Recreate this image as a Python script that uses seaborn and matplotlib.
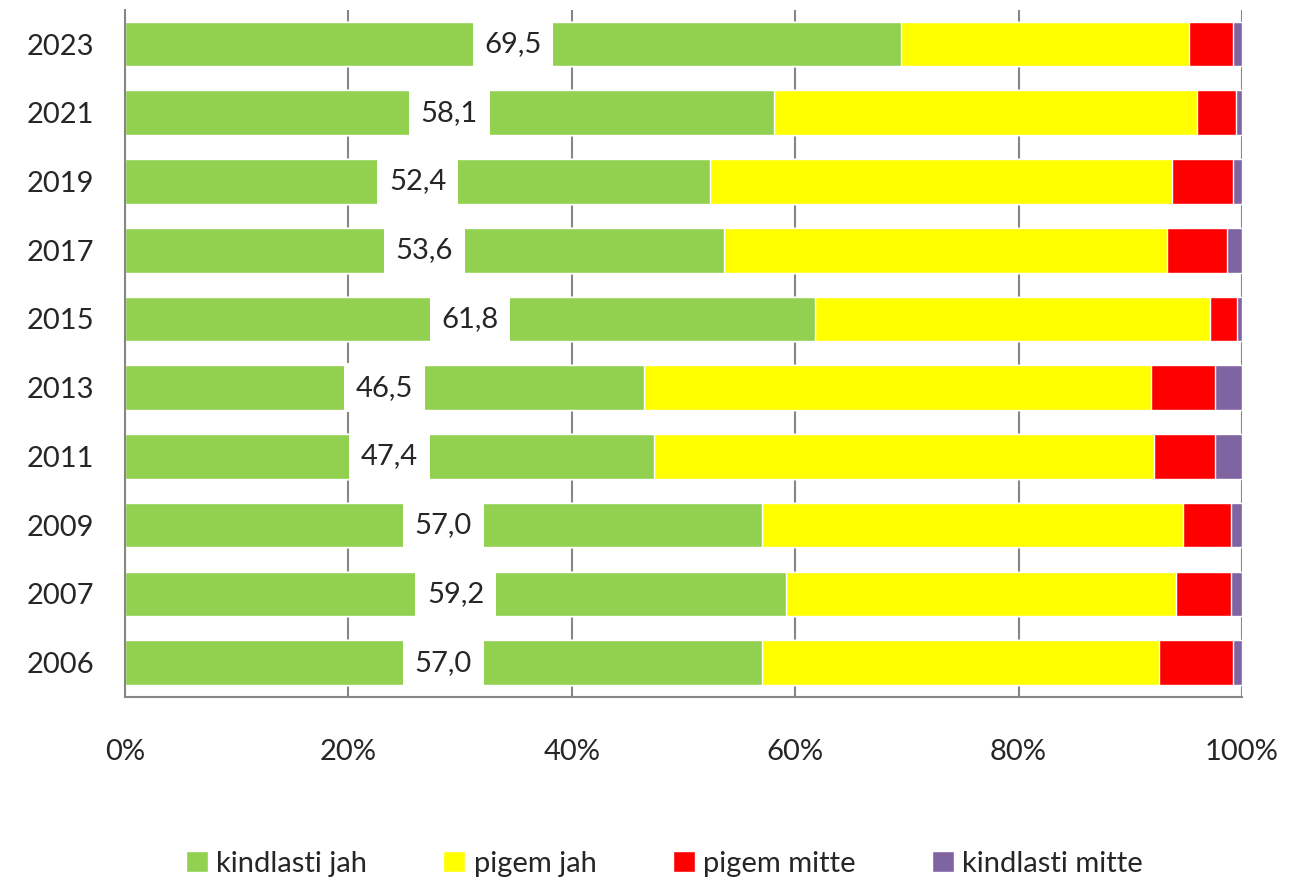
import matplotlib
matplotlib.use("Agg")
import matplotlib.pyplot as plt
import numpy as np
import pandas as pd
import seaborn as sns

years = ["2023", "2021", "2019", "2017", "2015", "2013", "2011", "2009", "2007", "2006"]
kindlasti_jah = [69.5, 58.1, 52.4, 53.6, 61.8, 46.5, 47.4, 57.0, 59.2, 57.0]
pigem_jah = [25.8, 37.9, 41.3, 39.7, 35.3, 45.4, 44.7, 37.7, 34.9, 35.6]
pigem_mitte = [3.9, 3.5, 5.5, 5.4, 2.5, 5.7, 5.5, 4.3, 4.9, 6.6]
kindlasti_mitte = [0.8, 0.5, 0.8, 1.3, 0.4, 2.4, 2.4, 1.0, 1.0, 0.8]

series = ["kindlasti jah", "pigem jah", "pigem mitte", "kindlasti mitte"]
colors = ["#92d050", "#ffff00", "#ff0000", "#8064a2"]

df = pd.DataFrame({
    "year": years,
    "kindlasti jah": kindlasti_jah,
    "pigem jah": pigem_jah,
    "pigem mitte": pigem_mitte,
    "kindlasti mitte": kindlasti_mitte,
})
# normalise rows to 100 % like the original stacked percent chart
totals = df[series].sum(axis=1)
for s in series:
    df[s] = df[s] / totals * 100
cum = df[series].cumsum(axis=1)
cum["year"] = df["year"]

sns.set_style("white")
plt.rcParams["font.family"] = ["Lato", "DejaVu Sans"]

fig = plt.figure(figsize=(12.91, 8.8), dpi=100)
ax = fig.add_axes([0.0968, 0.208, 0.8652, 0.781])

# draw cumulative bars from the widest down so they stack visually
for s, c in reversed(list(zip(series, colors))):
    sns.barplot(data=cum, x=s, y="year", order=years,
                orient="h", color=c, width=0.65, saturation=1, ax=ax,
                label=s, zorder=2)

for i, v in enumerate(kindlasti_jah):
    ax.text(v / 2, i, f"{v:.1f}".replace(".", ","), ha="center", va="center",
            fontsize=21, color="#262626", zorder=4,
            bbox=dict(boxstyle="square,pad=0.4", fc="white", ec="none"))

ax.set_xlim(0, 100)
ax.set_ylim(len(years) - 0.5, -0.5)
ax.set_xticks(np.arange(0, 101, 20))
ax.set_xticklabels([f"{t}%" for t in range(0, 101, 20)], fontsize=21, color="#262626")
ax.tick_params(axis="y", labelsize=21, labelcolor="#262626", length=0, pad=22)
ax.tick_params(axis="x", length=0, pad=30)
ax.xaxis.grid(True, color="#868686", lw=1.5, zorder=0)
ax.set_axisbelow(True)
ax.set_xlabel("")
ax.set_ylabel("")
ax.spines["top"].set_visible(False)
ax.spines["right"].set_visible(False)
for side in ["left", "bottom"]:
    ax.spines[side].set_color("#868686")
    ax.spines[side].set_linewidth(1.5)

handles, labels = ax.get_legend_handles_labels()
order = [labels.index(s) for s in series]
ax.legend([handles[k] for k in order], series, loc="lower center",
          bbox_to_anchor=(0.483, -0.3), ncol=4, frameon=False, fontsize=21,
          handlelength=0.75, handleheight=0.75, handletextpad=0.3, columnspacing=2.6)

fig.savefig("out.png", dpi=100)
